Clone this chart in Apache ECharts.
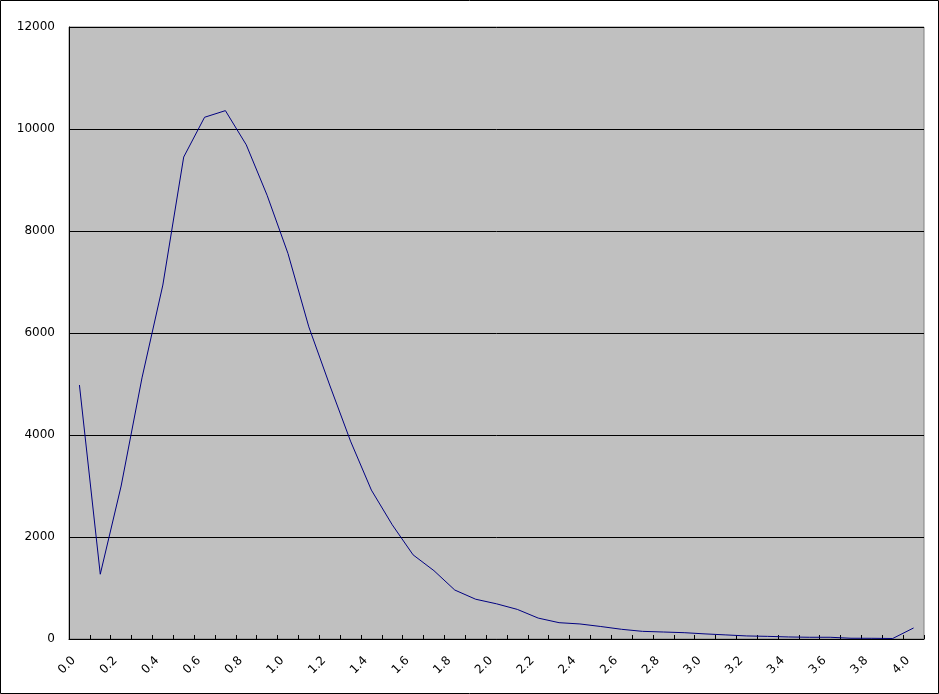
<!DOCTYPE html>
<html>
<head>
<meta charset="utf-8">
<script src="https://cdn.jsdelivr.net/npm/echarts@6/dist/echarts.min.js"></script>
<style>
html,body{margin:0;padding:0;background:#fff;}
#chart{width:939px;height:694px;}
</style>
</head>
<body>
<div id="chart"></div>
<script>
const categories = ['0.0','0.1','0.2','0.3','0.4','0.5','0.6','0.7','0.8','0.9',
  '1.0','1.1','1.2','1.3','1.4','1.5','1.6','1.7','1.8','1.9',
  '2.0','2.1','2.2','2.3','2.4','2.5','2.6','2.7','2.8','2.9',
  '3.0','3.1','3.2','3.3','3.4','3.5','3.6','3.7','3.8','3.9','4.0'];
const values = [4980, 1270, 3000, 5120, 6940, 9450, 10230, 10360, 9690, 8700,
  7560, 6120, 4980, 3880, 2920, 2240, 1650, 1340, 960, 780,
  690, 580, 410, 320, 295, 245, 190, 150, 137, 124,
  100, 80, 60, 52, 40, 34, 34, 15, 14, 10, 216];
const yTicks = { min: 0, max: 12000, interval: 2000 };

const chart = echarts.init(document.getElementById('chart'), null, {renderer: 'canvas'});
chart.setOption({
  animation: false,
  backgroundColor: '#ffffff',
  grid: {
    left: 69, right: 15, top: 27, bottom: 55,
    show: true, backgroundColor: '#c0c0c0', borderColor: '#808080', borderWidth: 1
  },
  xAxis: {
    type: 'category',
    data: categories,
    boundaryGap: true,
    axisLine: { show: true, lineStyle: { color: '#000', width: 1 } },
    axisTick: { show: true, inside: true, length: 4, interval: 0, lineStyle: { color: '#000' } },
    axisLabel: {
      interval: 1, rotate: 45, margin: 14, padding: [0, 8, 0, 0],
      color: '#000', fontFamily: 'DejaVu Sans', fontSize: 12
    },
    splitLine: { show: false }
  },
  yAxis: {
    type: 'value',
    min: yTicks.min, max: yTicks.max, interval: yTicks.interval,
    axisLine: { show: true, lineStyle: { color: '#000', width: 1 } },
    axisTick: { show: false },
    axisLabel: { color: '#000', fontFamily: 'DejaVu Sans', fontSize: 12, margin: 14,
      formatter: function (v) { return String(v); } },
    splitLine: { show: true, lineStyle: { color: '#000', width: 1 } }
  },
  series: [{
    type: 'line',
    data: values,
    symbol: 'none',
    smooth: false,
    lineStyle: { color: '#000080', width: 1 }
  }],
  graphic: [{
    type: 'rect',
    shape: { x: 0.5, y: 0.5, width: 938, height: 693 },
    style: { fill: 'none', stroke: '#000', lineWidth: 1 },
    silent: true, z: 100
  }]
});
</script>
</body>
</html>
